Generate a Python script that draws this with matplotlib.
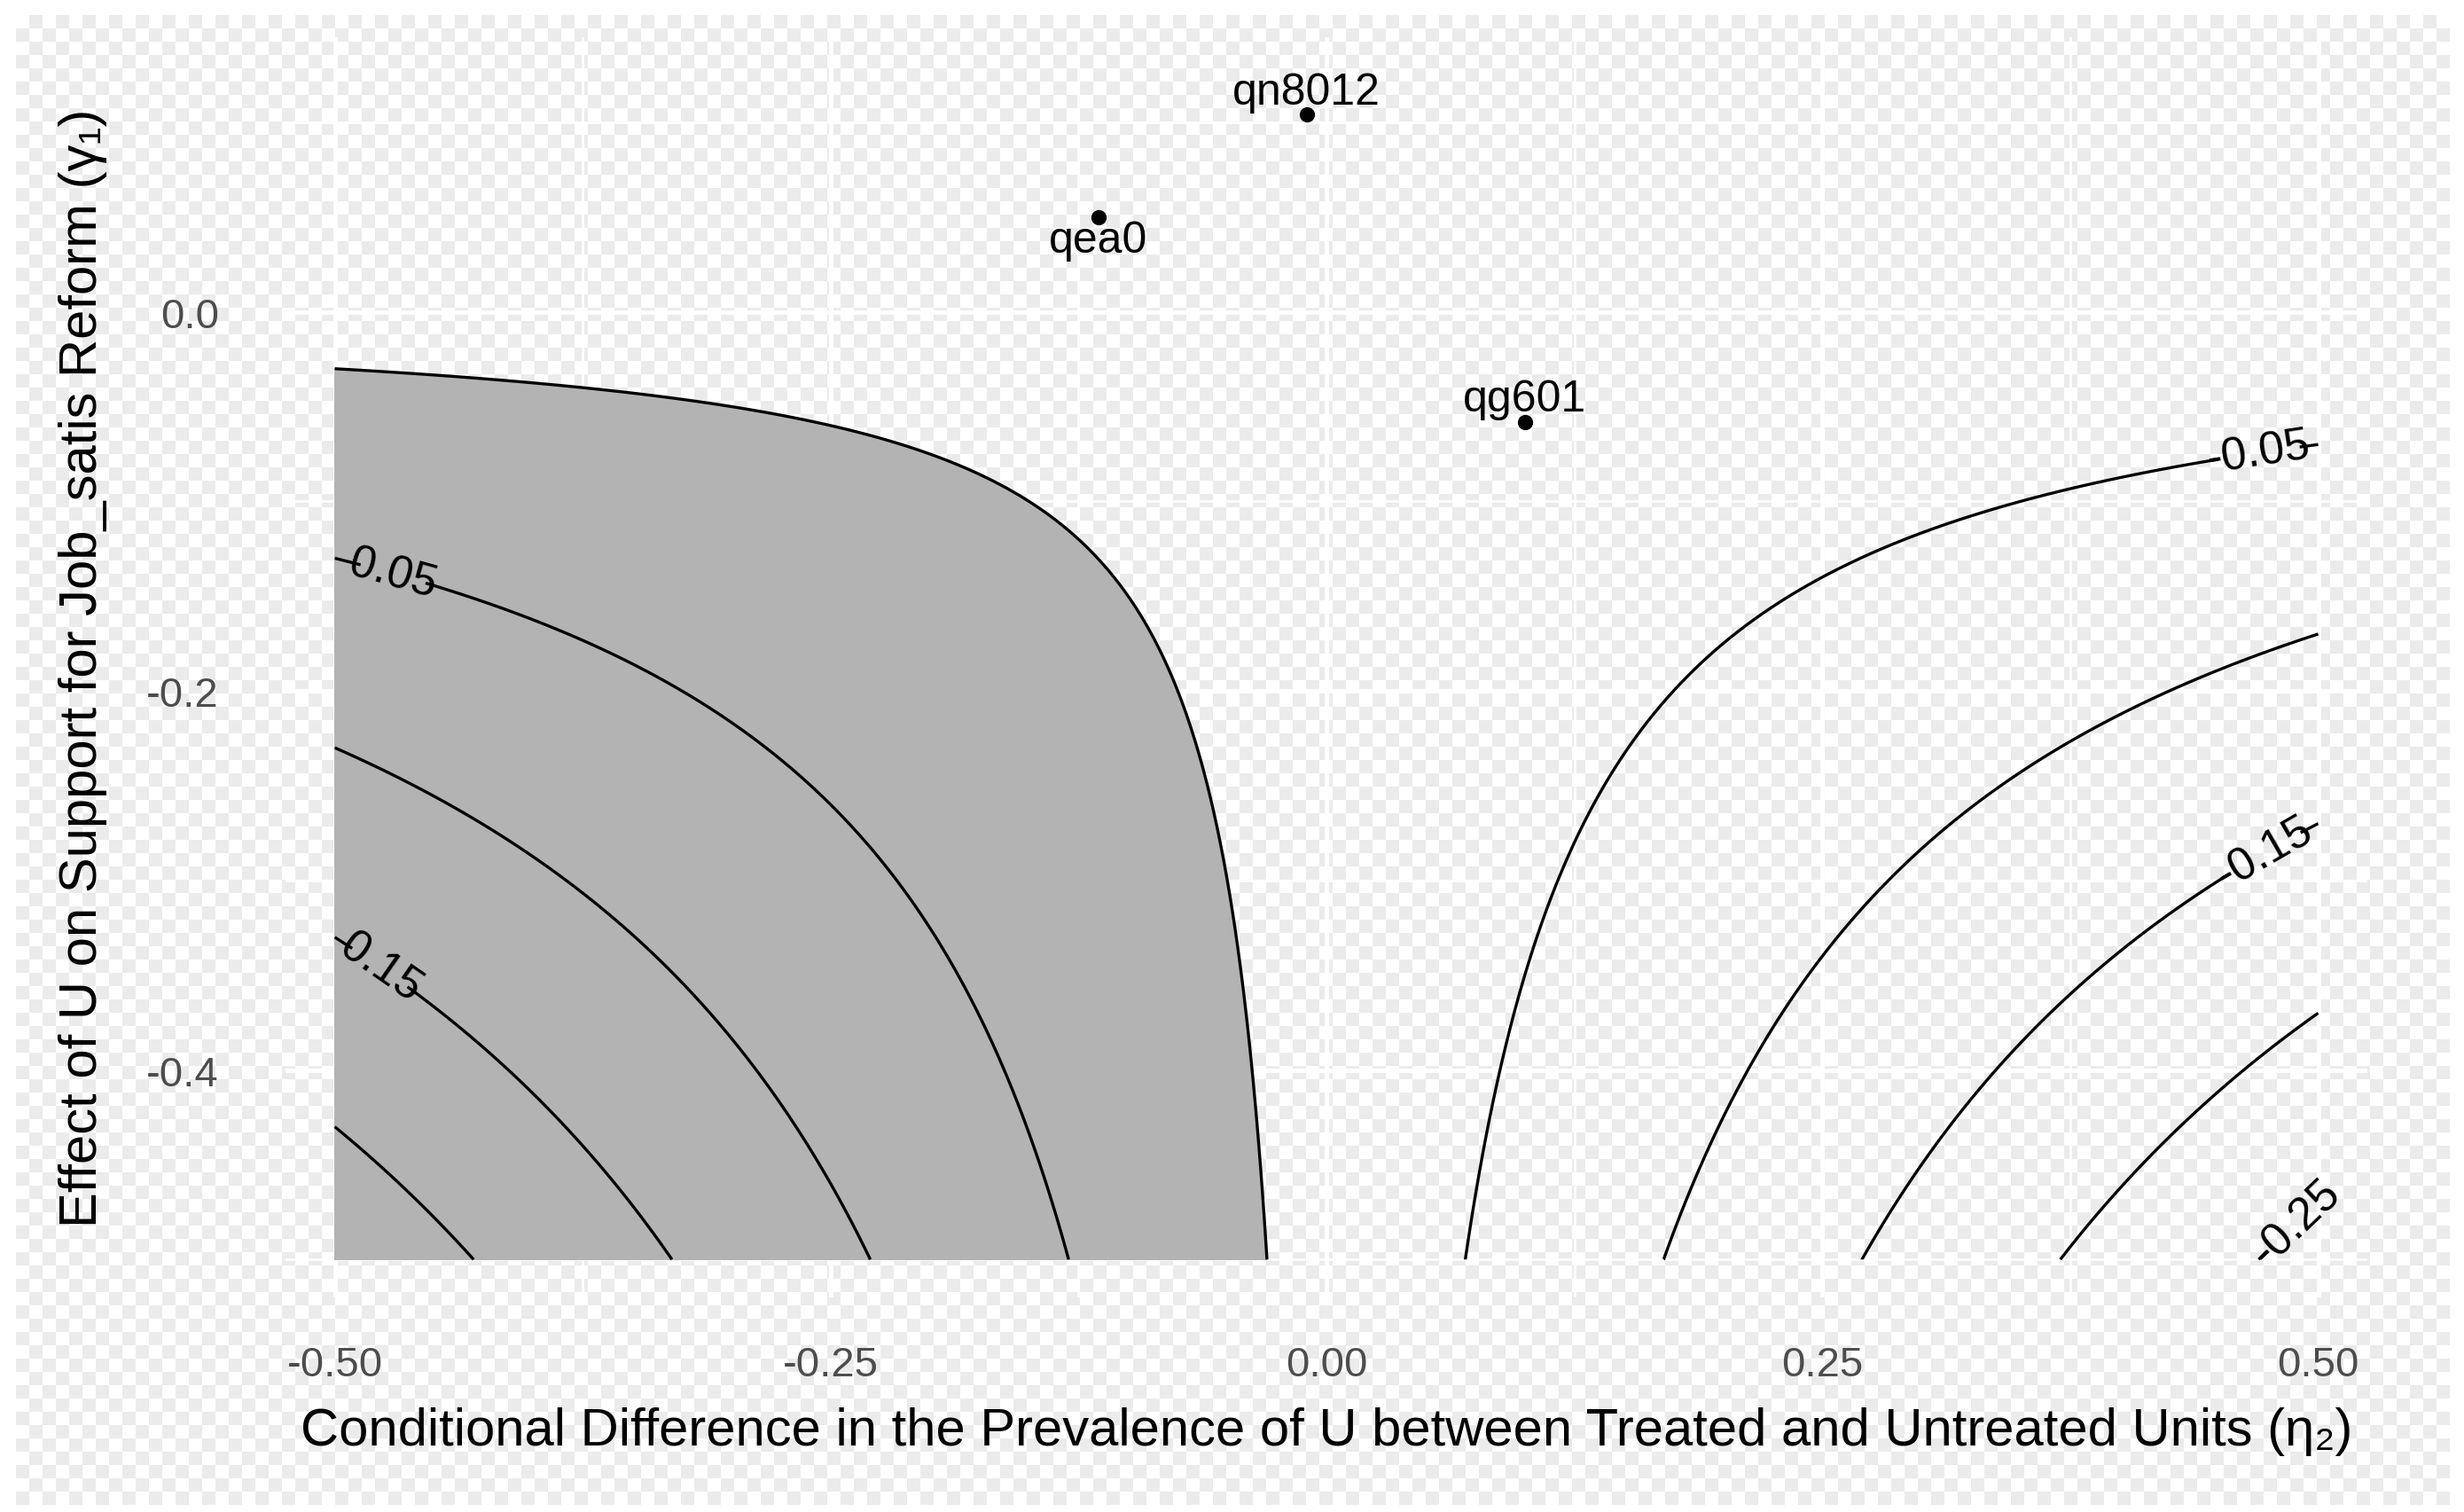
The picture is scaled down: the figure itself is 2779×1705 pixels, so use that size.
import numpy as np
import matplotlib
matplotlib.use("Agg")
import matplotlib.pyplot as plt

plt.rcParams['font.family'] = ['Liberation Sans', 'DejaVu Sans']
plt.rcParams['contour.negative_linestyle'] = 'solid'

est = -0.015
eta_range = [-0.5, 0.5]
gamma_range = [-0.5, 0.0]
levels = [-0.25, -0.2, -0.15, -0.1, -0.05, 0.0, 0.05, 0.1, 0.15, 0.2]
lab_levels = [0.05, 0.15, -0.05, -0.15, -0.25]
pt_names = ["qn8012", "qea0", "qg601"]
pt_eta = [-0.01, -0.115, 0.10]
pt_gamma = [0.104, 0.05, -0.058]
pt_above = [True, False, True]
xticks = [-0.5, -0.25, 0.0, 0.25, 0.5]
xticklabels = ["-0.50", "-0.25", "0.00", "0.25", "0.50"]
yticks = [0.0, -0.2, -0.4]
yticklabels = ["0.0", "-0.2", "-0.4"]

W, H = 2779, 1706
fig = plt.figure(figsize=(W/100, H/100), dpi=100)

bg = fig.add_axes([0, 0, 1, 1], zorder=-10)
sq = 15
m = 18
nx = (W - 2*m)//sq + 1
ny = (H - 2*m)//sq + 1
chk = (np.add.outer(np.arange(ny), np.arange(nx)) % 2).astype(float)
cimg = np.where(chk[..., None] > 0, np.array([0.922]*3), np.array([1.0]*3))
bg.imshow(cimg, extent=[m, m + nx*sq, H - m - ny*sq, H - m], origin='upper', interpolation='nearest')
bg.set_xlim(0, W); bg.set_ylim(0, H); bg.axis('off')

ax = fig.add_axes([180.6*1.781/W, 1-822*1.781/H, (1499.4-180.6)*1.781/W, (822-24)*1.781/H])
ax.patch.set_alpha(0)
ax.set_xlim(-0.525, 0.525)
ax.set_ylim(-0.52, 0.145)

eta = np.linspace(eta_range[0], eta_range[1], 401)
gam = np.linspace(gamma_range[0], gamma_range[1], 401)
E, G = np.meshgrid(eta, gam)
Z = G*E + est

ax.contourf(E, G, Z, levels=[0, 10], colors=['#b3b3b3'], zorder=1)
unl = [l for l in levels if l not in lab_levels]
ax.contour(E, G, Z, levels=unl, colors='black', linewidths=2.4, linestyles='solid', zorder=2)
manual = [(-0.47, -0.136), (-0.47, -0.335), (0.47, -0.074), (0.47, -0.28), (0.48, -0.47)]
for lv, pos in zip(lab_levels, manual):
    c = ax.contour(E, G, Z, levels=[lv], colors='black', linewidths=2.4, linestyles='solid', zorder=2)
    ax.clabel(c, manual=[pos], inline=True, inline_spacing=-12, fontsize=37, fmt=lambda v: f"{v:.2f}")

ax.scatter(pt_eta, pt_gamma, s=130, color='black', zorder=5)
for n, x, y, a in zip(pt_names, pt_eta, pt_gamma, pt_above):
    ax.annotate(n, (x, y), xytext=(0, 2 if a else -2), textcoords='offset points',
                ha='center', va='bottom' if a else 'top', fontsize=36, zorder=6)

ax.set_xticks(xticks)
ax.set_xticklabels(xticklabels)
ax.set_yticks(yticks)
ax.set_yticklabels(yticklabels)
ax.set_xticks([-0.375, -0.125, 0.125, 0.375], minor=True)
ax.set_yticks([0.1, -0.1, -0.3, -0.5], minor=True)
ax.grid(True, which='major', color='white', linewidth=3.5, zorder=0)
ax.grid(True, which='minor', color='white', linewidth=1.8, zorder=0)
ax.set_axisbelow(True)
ax.tick_params(which='both', length=0, labelsize=34, labelcolor='#4d4d4d')
ax.tick_params(axis='x', pad=39)
ax.tick_params(axis='y', pad=54)
for s in ax.spines.values():
    s.set_visible(False)
ax.set_xlabel("Conditional Difference in the Prevalence of U between Treated and Untreated Units (η₂)",
              fontsize=43, labelpad=18)
ax.set_ylabel("Effect of U on Support for Job_satis Reform (γ₁)", fontsize=43, labelpad=32)

fig.savefig("out.png", dpi=100)
